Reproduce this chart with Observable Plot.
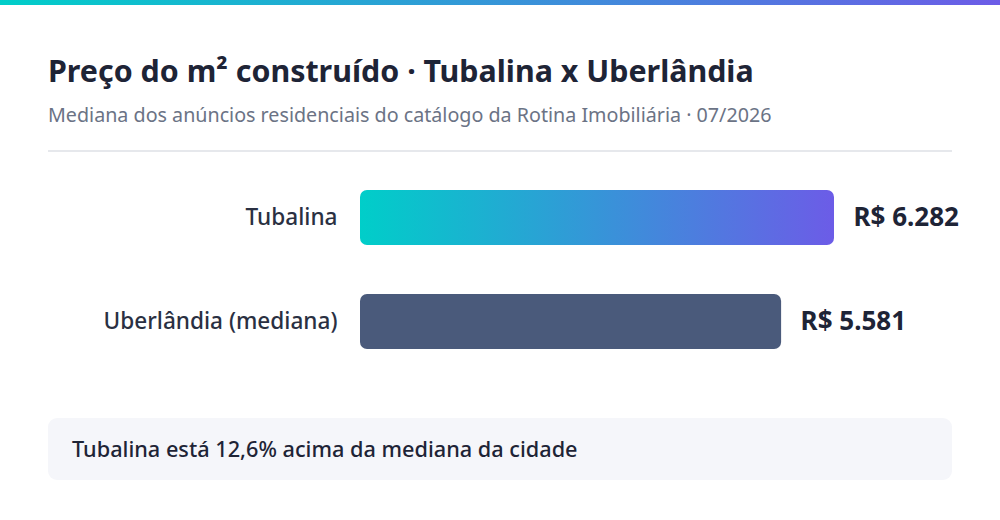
<!DOCTYPE html>
<html>
<head>
<meta charset="utf-8">
<script src="https://cdn.jsdelivr.net/npm/d3@7"></script>
<script src="https://cdn.jsdelivr.net/npm/@observablehq/plot@0.6"></script>
<style>
  html, body { margin: 0; padding: 0; background: #fff; }
  body { width: 1000px; height: 520px; position: relative; overflow: hidden; font-family: "Noto Sans", sans-serif; }
  #topbar { position: absolute; left: 0; top: 0; width: 1000px; height: 5px; background: linear-gradient(90deg, #00cec9, #6c5ce7); }
  #title { position: absolute; left: 48px; top: 56px; font-size: 30.4px; line-height: 30px; font-weight: 700; color: #1e2436; white-space: nowrap; }
  #subtitle { position: absolute; left: 48px; top: 105px; font-size: 19.7px; line-height: 19.5px; color: #6b7385; white-space: nowrap; }
  #rule { position: absolute; left: 48px; top: 150px; width: 904px; height: 2px; background: #e6e8ec; }
  #chart { position: absolute; left: 0; top: 160px; }
  #note { position: absolute; left: 48px; top: 418px; width: 904px; height: 62px; background: #f5f6fa; border-radius: 9px; }
  #note span { position: absolute; left: 24px; top: 50%; transform: translateY(-52%); font-size: 21.7px; font-weight: 500; color: #1e2436; white-space: nowrap; }
</style>
</head>
<body>
<div id="topbar"></div>
<div id="title">Preço do m² construído · Tubalina x Uberlândia</div>
<div id="subtitle">Mediana dos anúncios residenciais do catálogo da Rotina Imobiliária · 07/2026</div>
<div id="rule"></div>
<div id="chart"></div>
<div id="note"><span></span></div>
<script>
const categories = ["Tubalina", "Uberlândia (mediana)"];
const values = [6282, 5581];

const data = categories.map((c, i) => ({category: c, value: values[i]}));
const br = d3.formatLocale({decimal: ",", thousands: ".", grouping: [3], currency: ["R$ ", ""]});
const fmtMoney = br.format("$,.0f");
const fmtPct = br.format(".1%");

const defs = () => {
  const d = d3.create("svg:defs");
  const g = d.append("linearGradient").attr("id", "barGrad").attr("x1", "0").attr("x2", "1").attr("y1", "0").attr("y2", "0");
  g.append("stop").attr("offset", "0%").attr("stop-color", "#00cec9");
  g.append("stop").attr("offset", "100%").attr("stop-color", "#6c5ce7");
  return d.node();
};

const chart = Plot.plot({
  width: 1000,
  height: 230,
  marginLeft: 360,
  marginRight: 166,
  marginTop: 30,
  marginBottom: 41,
  style: {fontFamily: "Noto Sans, sans-serif", background: "transparent"},
  x: {domain: [0, d3.max(values)], axis: null},
  y: {domain: categories, paddingInner: 0.4712, paddingOuter: 0, label: null},
  marks: [
    defs,
    Plot.barX(data.slice(0, 1), {x: "value", y: "category", fill: "url(#barGrad)", rx: 7}),
    Plot.barX(data.slice(1), {x: "value", y: "category", fill: "#4a5a7b", rx: 7}),
    Plot.axisY({tickSize: 0, tickPadding: 23, fontSize: 22.6, fontWeight: 500, fill: "#2a3042", label: null}),
    Plot.text(data, {x: "value", y: "category", text: d => fmtMoney(d.value), dx: 19, textAnchor: "start", fontSize: 26, fontWeight: 700, fill: "#1e2436"})
  ]
});
document.getElementById("chart").append(chart);

const diff = values[0] / values[1] - 1;
document.querySelector("#note span").textContent = `${categories[0]} está ${fmtPct(diff)} acima da mediana da cidade`;
</script>
</body>
</html>
